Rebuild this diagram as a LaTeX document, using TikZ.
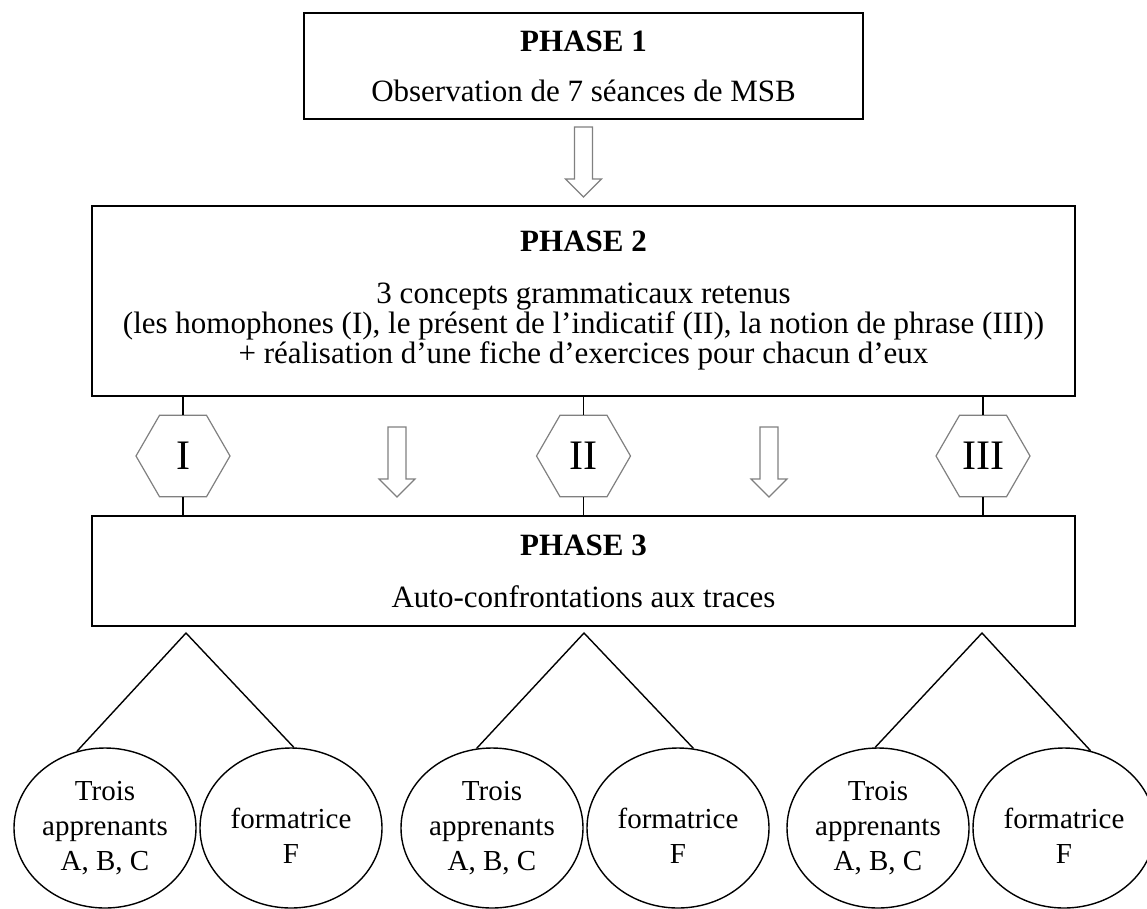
\documentclass[tikz,border=0pt]{standalone}
\usepackage{fontspec}
\setmainfont{Liberation Serif}
\usetikzlibrary{shapes.geometric,positioning}
\tikzset{phase box/.style={rectangle,draw,line width=1.5pt,align=center,inner sep=0pt},
         hex node/.style={regular polygon,regular polygon sides=6,draw=black!50,line width=1.2pt,fill=white,minimum size=94pt,inner sep=0pt,font=\fontsize{42}{48}\selectfont},
         hollow arrow/.pic={\draw[draw=black!50,fill=white,line width=1.1pt]
             (-9,0) -- (9,0) -- (9,52) -- (18,52) -- (0,70) -- (-18,52) -- (-9,52) -- cycle;},
         person node/.style={ellipse,draw,line width=1.4pt,minimum width=182pt,minimum height=160pt,inner sep=0pt,align=center,font=\fontsize{29}{35}\selectfont},
         link/.style={line width=1.4pt},
}

\begin{document}
\begin{tikzpicture}[x=1pt,y=-1pt,font=\fontsize{31}{30}\selectfont]

\useasboundingbox (0,0) rectangle (1147,908);

% the three phases
\node[phase box,minimum width=559pt,minimum height=106pt] (p1) at (583.5,66)
    {\textbf{PHASE 1}\\[20pt]Observation de 7 séances de MSB};
\node[phase box,minimum width=983pt,minimum height=190pt] (p2) at (583.5,301)
    {\textbf{PHASE 2}\\[22pt]3 concepts grammaticaux retenus\\
     (les homophones (I), le présent de l'indicatif (II), la notion de phrase (III))\\
     + réalisation d'une fiche d'exercices pour chacun d'eux};
\node[phase box,minimum width=983pt,minimum height=110pt] (p3) at (583.5,571)
    {\textbf{PHASE 3}\\[22pt]Auto-confrontations aux traces};

\pic (d1) at (583.5,127) {hollow arrow};
\pic (d2) at (397,427) {hollow arrow};
\pic (d3) at (769,427) {hollow arrow};

% concepts
\foreach \i/\x/\t in {1/183/I, 2/583.5/II, 3/983/III}{
    \node[hex node] (h\i) at (\x,456) {\t};
    \draw[link] (h\i.north |- p2.south) -- (h\i.north);
    \draw[link] (h\i.south) -- (h\i.south |- p3.north);
}

% participants
\foreach \i/\xa/\xt/\aa/\af in {1/105/186/110/88, 2/492/584/101/79, 3/878/982/92/71}{
    \node[person node] (a\i) at (\xa,828) {Trois\\apprenants\\A, B, C};
    \node[person node] (f\i) at ({\xa+186},828) {\mbox{}\\formatrice\\F};
    \coordinate (t\i) at (\xt,633);
    \draw[link] (a\i.\aa) -- (t\i) -- (f\i.\af);
}
\end{tikzpicture}
\end{document}
